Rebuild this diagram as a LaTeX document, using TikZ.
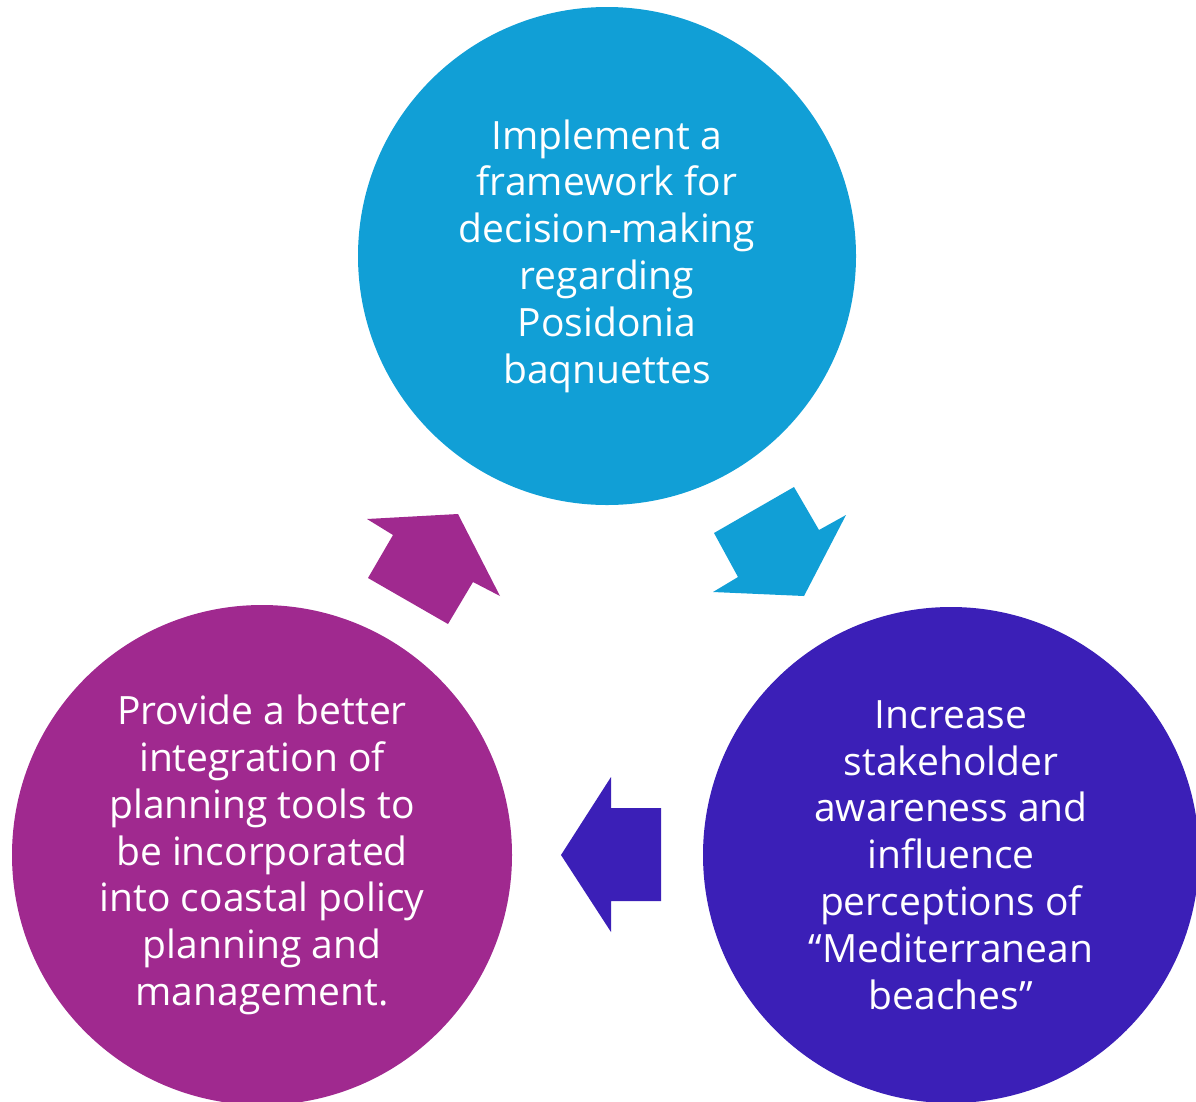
\documentclass[tikz,border=0pt]{standalone}
\usepackage{fontspec}
\setmainfont{Open Sans}
\definecolor{cblue}{HTML}{119FD6}
\definecolor{cpurple}{HTML}{A0298F}
\definecolor{cindigo}{HTML}{3B1FB7}
\begin{document}
\begin{tikzpicture}[x=1pt,y=-1pt,
  bubble/.style={circle,inner sep=0pt,text=white,align=center,
    font=\fontsize{39}{46.8}\selectfont},
  blockarrow/.style={draw=none}]
\useasboundingbox (0,0) rectangle (1196,1101);
\node[bubble,fill=cblue,minimum size=498pt] (top) at (607,256)
  {Implement a\\framework for\\decision-making\\regarding\\Posidonia\\baqnuettes};
\node[bubble,fill=cpurple,minimum size=500pt] (left) at (262,855)
  {Provide a better\\integration of\\planning tools to\\be incorporated\\into coastal policy\\planning and\\management.};
\node[bubble,fill=cindigo,minimum size=496pt] (right) at (951,855)
  {Increase\\stakeholder\\awareness and\\influence\\perceptions of\\“Mediterranean\\beaches”};
\fill[cpurple,blockarrow] (367,519) -- (458,514) -- (500,596) -- (473,582) -- (448,624) -- (368,578) -- (393,535) -- cycle;
\fill[cblue,blockarrow] (714,533) -- (794,487) -- (819,530) -- (846,515) -- (804,596) -- (713,592) -- (738,577) -- cycle;
\fill[cindigo,blockarrow] (611,777) -- (611,808) -- (661,808) -- (661,901) -- (611,901) -- (611,932) -- (561,855) -- cycle;
\end{tikzpicture}
\end{document}
